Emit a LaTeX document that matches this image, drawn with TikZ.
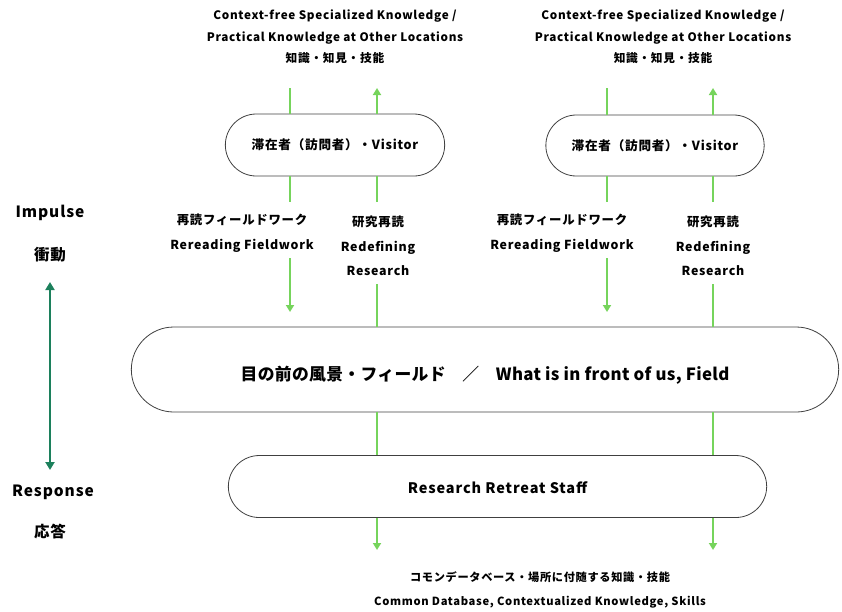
\documentclass[tikz,border=0pt]{standalone}
\usepackage{fontspec}
\setmainfont{Noto Sans CJK JP}[LetterSpace=6]
\newfontfamily\fieldfont{Noto Sans CJK JP}[LetterSpace=2]
\usetikzlibrary{shapes.misc,arrows.meta}

\definecolor{feedgreen}{RGB}{118,212,92}
\definecolor{axisgreen}{RGB}{28,128,92}

\tikzset{
    box/.style={draw=black!75, rounded rectangle, line width=0.8pt, font=\bfseries\fontsize{12.6}{14}\selectfont},
    label/.style={align=center, font=\bfseries\fontsize{12.4}{24.5}\selectfont, inner sep=0pt},
    sidelabel/.style={label, font=\bfseries\fontsize{15.5}{18}\selectfont},
    feed/.style={draw=feedgreen, line width=1.8pt},
    feedtip/.style={feed, -{Triangle[length=7pt,width=8pt]}}
}

\begin{document}
\begin{tikzpicture}[x=1pt, y=-1pt]
            \useasboundingbox (0,0) rectangle (842,611);

            % Knowledge from other places
            \node [label, font=\bfseries\fontsize{11.7}{21.5}\selectfont] (knowL) at (335,37) {Context-free Specialized Knowledge /\\Practical Knowledge at Other Locations\\知識・知見・技能};
            \node [label, font=\bfseries\fontsize{11.7}{21.5}\selectfont] (knowR) at (663,37) {Context-free Specialized Knowledge /\\Practical Knowledge at Other Locations\\知識・知見・技能};

            % Visitors
            \node [box, minimum width=226, minimum height=62] (visL) at (335,145) {滞在者（訪問者）・Visitor};
            \node [box, minimum width=225, minimum height=61] (visR) at (655,145.5) {滞在者（訪問者）・Visitor};

            % Rereading and redefining
            \node [label] (rwL) at (242,233) {再読フィールドワーク\\Rereading Fieldwork};
            \node [label] (rdL) at (378,246) {研究再読\\Redefining\\Research};
            \node [label] (rwR) at (562,233) {再読フィールドワーク\\Rereading Fieldwork};
            \node [label] (rdR) at (713,246) {研究再読\\Redefining\\Research};

            % The field and the staff
            \node [box, minimum width=714, minimum height=85, text height=26pt, text depth=4pt, font=\bfseries\fieldfont\fontsize{16.8}{18}\selectfont] (field) at (485,369.5) {目の前の風景・フィールド\quad ／\quad What is in front of us, Field};
            \node [box, minimum width=545, minimum height=62, text height=17pt, text depth=3.5pt, font=\bfseries\fontsize{14.5}{16}\selectfont] (staff) at (497.5,486.5) {Research Retreat Staff};

            % Knowledge that stays
            \node [label, font=\bfseries\fontsize{11.2}{24}\selectfont] (common) at (540,590) {コモンデータベース・場所に付随する知識・技能\\Common Database, Contextualized Knowledge, Skills};

            % Impulse and response
            \node [sidelabel] (impulse) at (50,213) {Impulse};
            \node [sidelabel] (shodo) at (50,255) {衝動};
            \node [sidelabel] (response) at (53,492) {Response};
            \node [sidelabel] (outo) at (50,532) {応答};
            \coordinate (axTop) at (50,282);
            \coordinate (axBot) at (50,470);
            \draw [axisgreen, line width=2.6pt, {Triangle[length=8pt,width=9pt]}-{Triangle[length=8pt,width=9pt]}] (axTop) -- (axBot);

            % Columns of the feeds
            \foreach \s/\a/\b/\k in {L/290/377/visL, R/607/713/visR}
            {
                \coordinate (in\s) at (\a,88);
                \coordinate (out\s) at (\b,88);
                \coordinate (rwTop\s) at (\a,202);
                \coordinate (rwBot\s) at (\a,258);
                \coordinate (rwEnd\s) at (\a,312);
                \coordinate (rdTop\s) at (\b,202);
                \coordinate (rdBot\s) at (\b,284);
                \coordinate (keep\s) at (\b,550);
                \draw [feed] (in\s) -- (in\s |- \k.north);
                \draw [feedtip] (out\s |- \k.north) -- (out\s);
                \draw [feed] (rwTop\s |- \k.south) -- (rwTop\s);
                \draw [feedtip] (rwBot\s) -- (rwEnd\s);
                \draw [feed] (rdTop\s |- \k.south) -- (rdTop\s);
                \draw [feed] (rdBot\s) -- (rdBot\s |- field.north);
                \draw [feed] (rdBot\s |- field.south) -- (rdBot\s |- staff.north);
                \draw [feedtip] (keep\s |- staff.south) -- (keep\s);
            }
        \end{tikzpicture}
\end{document}
